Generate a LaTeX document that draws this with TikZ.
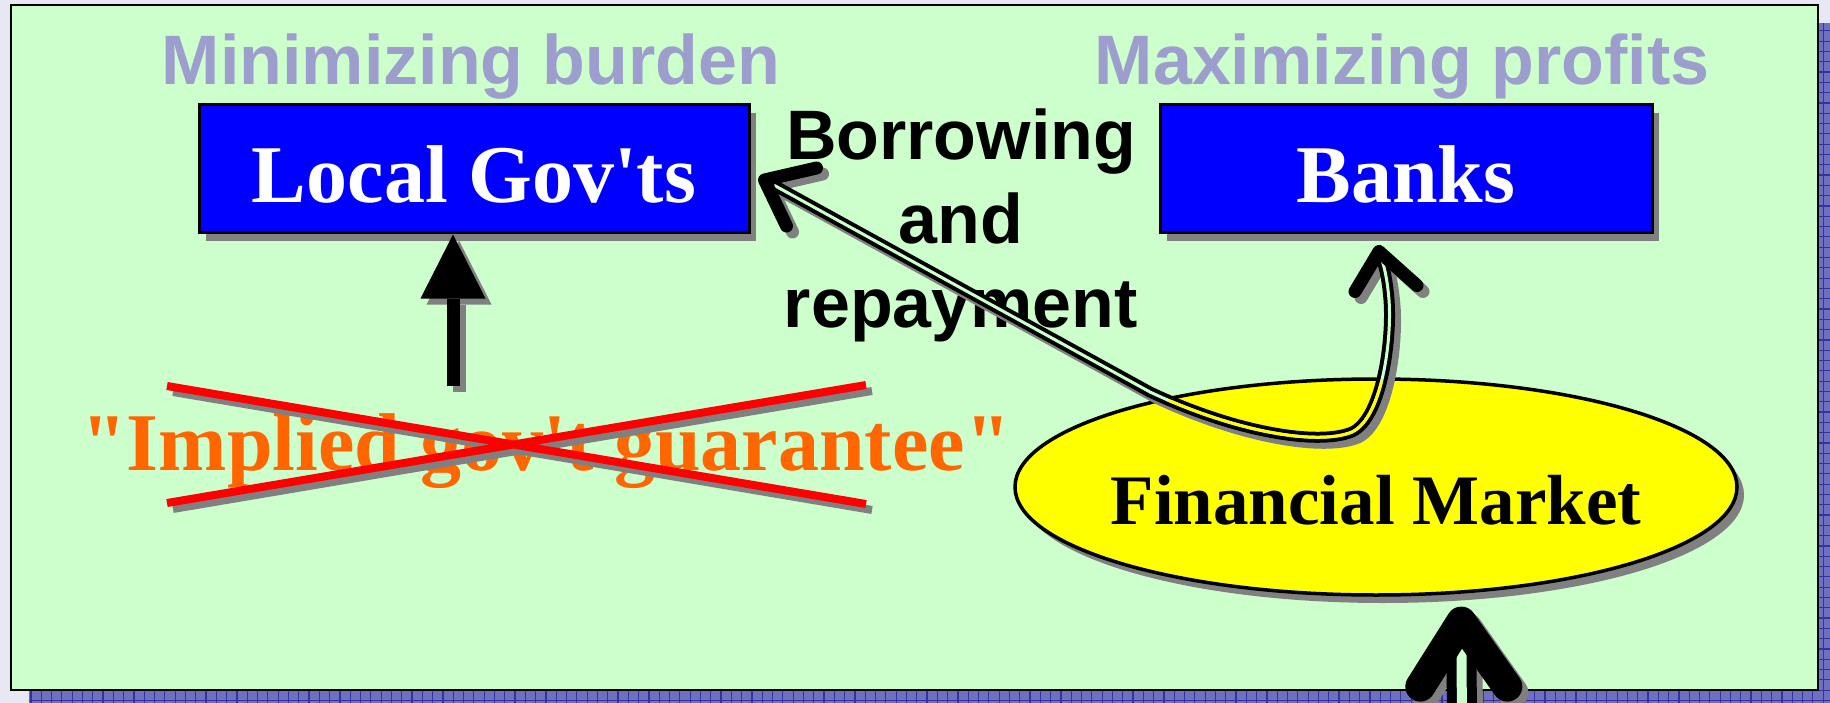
\documentclass[tikz,border=0pt]{standalone}
\usepackage{fontspec}
\usepackage{tikz}
\usetikzlibrary{arrows.meta, positioning, calc, shapes.geometric, shadows}
\newfontfamily\serifface{Liberation Serif}
\newfontfamily\sansface{Liberation Sans}
\definecolor{mypage}{RGB}{232,232,245}
\definecolor{mypanel}{RGB}{204,255,204}
\definecolor{myhatch}{RGB}{112,112,192}
\definecolor{myhatchline}{RGB}{50,50,160}
\definecolor{mylavender}{RGB}{158,158,206}
\definecolor{myblue}{RGB}{0,0,255}
\definecolor{myyellow}{RGB}{255,255,0}
\definecolor{myorange}{RGB}{255,102,0}
\definecolor{myred}{RGB}{255,0,0}
\definecolor{mygray}{RGB}{128,128,128}
\tikzset{
  boxshadow/.style={drop shadow={shadow xshift=7pt, shadow yshift=-8pt,
    fill=mygray, opacity=1}},
  actorbox/.style={rectangle, draw=black, fill=myblue, line width=3pt,
    minimum height=128pt, inner sep=0pt, text=white,
    text height=68pt, text depth=0pt,
    font=\serifface\bfseries\fontsize{82}{98}\selectfont, boxshadow},
  marketnode/.style={ellipse, draw=black, fill=myyellow, line width=3.5pt,
    minimum width=722pt, minimum height=216pt, inner xsep=-40pt, inner ysep=0pt,
    text height=75pt, text depth=0pt,
    font=\serifface\bfseries\fontsize{71}{85}\selectfont, boxshadow},
  titlelabel/.style={anchor=base, inner sep=0pt, text=mylavender,
    font=\sansface\bfseries\fontsize{70}{84}\selectfont},
  flowlabel/.style={align=center, inner sep=0pt,
    font=\sansface\bfseries\fontsize{70}{84}\selectfont},
  guarlabel/.style={anchor=base, inner sep=0pt, text=myorange,
    font=\serifface\bfseries\fontsize{82}{98}\selectfont},
  crossline/.style={line width=8pt, myred},
  fatarrow/.style={line width=13pt,
    -{Triangle[length=64pt, width=65pt, line width=0pt]}},
  flowline/.style={line width=4pt, double=mypanel, double distance=3pt},
  chevron/.style={line width=13pt, line cap=round, line join=round},
  bigflow/.style={line width=10pt, double=mypanel, double distance=10pt},
  bigchevron/.style={line width=30pt, line cap=round, line join=round},
  shadowpass/.style={transform canvas={shift={(6pt,-6pt)}}}
}
\newcommand\flowroute{(gtip) -- (1150,392)
  .. controls (1235,432) and (1318,446) .. (1352,432)
  .. controls (1382,418) and (1392,340) .. (1389,300)
  .. controls (1387,275) and (1383,262) .. (btip)}

\begin{document}
\begin{tikzpicture}[x=1pt, y=-1pt]
  \useasboundingbox (0,0) rectangle (1830,703);
  % Slide background, hatched shadow and green panel
  \fill[mypage] (0,0) rectangle (1830,703);
  \fill[myhatch] (29,23) rectangle (1840,710);
  \draw[myhatchline, line width=1.2pt, step=10.3pt] (29,23) grid (1840,710);
  \draw[line width=2.5pt, fill=mypanel] (11,5) rectangle (1818,690);

  % Headings
  \node[titlelabel] (burden) at (471,85) {Minimizing burden};
  \node[titlelabel] (profits) at (1402,85) {Maximizing profits};

  % Actors
  \node[actorbox, minimum width=550pt] (gov) at (474,169) {Local Gov'ts};
  \node[actorbox, minimum width=492pt] (banks) at (1406,169) {Banks};
  \node[marketnode] (market) at (1376,487) {Financial Market};

  % Texts
  \node[flowlabel] (flowtext) at (961,225) {Borrowing\\and\\repayment};
  \node[guarlabel] (guarantee) at (546,470) {"Implied gov't guarantee"};

  % Crossed-out guarantee
  \coordinate (xul) at (167,386); \coordinate (xlr) at (866,504);
  \coordinate (xll) at (167,503); \coordinate (xur) at (866,385);
  \begin{scope}[shadowpass]
    \draw[crossline, mygray] (xul) -- (xlr) (xll) -- (xur);
  \end{scope}
  \draw[crossline] (xul) -- (xlr) (xll) -- (xur);

  % Arrow up to Local Gov'ts
  \coordinate (govfoot) at (453,386);
  \begin{scope}[shadowpass]
    \draw[fatarrow, mygray] (govfoot) -- (govfoot |- gov.south);
  \end{scope}
  \draw[fatarrow] (govfoot) -- (govfoot |- gov.south);

  % Borrowing and repayment flow
  \coordinate (gtip) at ($(gov.east)+(14,11)$);
  \coordinate (btip) at ($(banks.south)+(-27,17)$);
  \begin{scope}[shadowpass]
    \draw[mygray, line width=11pt] \flowroute;
    \draw[chevron, mygray] ($(gtip)+(52,-12)$) -- (gtip) -- ($(gtip)+(22,46)$);
    \draw[chevron, mygray] ($(btip)+(-24,40)$) -- (btip) -- ($(btip)+(38,34)$);
  \end{scope}
  \draw[flowline] \flowroute;
  \begin{scope}
    \clip (1376,487) ellipse [x radius=359pt, y radius=106pt];
    \draw[myyellow, line width=3pt] \flowroute;
  \end{scope}
  \draw[chevron] ($(gtip)+(52,-12)$) -- (gtip) -- ($(gtip)+(22,46)$);
  \draw[chevron] ($(btip)+(-24,40)$) -- (btip) -- ($(btip)+(38,34)$);

  % Arrow up into the Financial Market
  \coordinate (mtip) at ($(market.309)+(-1,28)$);
  \coordinate (mfoot) at (1462,730);
  \begin{scope}[shadowpass]
    \draw[bigflow, mygray, double=mygray] (mfoot) -- (mtip);
    \draw[bigchevron, mygray] ($(mtip)+(-41,65)$) -- (mtip) -- ($(mtip)+(46,65)$);
  \end{scope}
  \draw[bigflow] (mfoot) -- (mtip);
  \draw[bigchevron] ($(mtip)+(-41,65)$) -- (mtip) -- ($(mtip)+(46,65)$);
\end{tikzpicture}
\end{document}
